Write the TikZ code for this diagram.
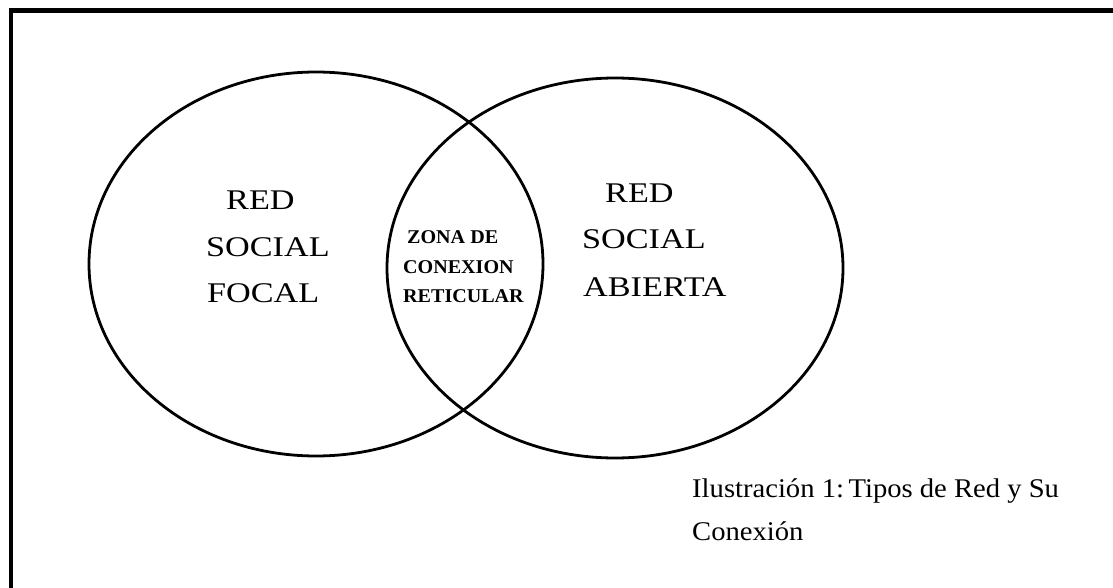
\documentclass[tikz,border=0pt]{standalone}
\usepackage{fontspec}
\setmainfont{Liberation Serif}
\newfontfamily\widefont[FakeStretch=1.2]{Liberation Serif}
\newfontfamily\zonefont[FakeStretch=1.03]{Liberation Serif}
\newfontfamily\capfont[FakeStretch=1.06]{Liberation Serif}
\usetikzlibrary{shapes.geometric}
\tikzset{
  ring/.style={draw=black, line width=2.8pt, ellipse, inner sep=0pt, minimum width=454pt, minimum height=384pt},
  bigtext/.style={anchor=base west, inner sep=0pt, font=\widefont\fontsize{28.5}{28.5}\selectfont},
  zonetext/.style={anchor=base west, inner sep=0pt, font=\zonefont\bfseries\fontsize{19.5}{19.5}\selectfont},
  captext/.style={anchor=base west, inner sep=0pt, font=\capfont\fontsize{27}{27}\selectfont},
}
\begin{document}
\begin{tikzpicture}[x=1pt, y=-1pt]
\useasboundingbox (0,0) rectangle (1113,588);
\fill[white] (0,0) rectangle (1113,588);
% frame
\coordinate (ftr) at (1113,10.5);
\coordinate (ftl) at (11,10.5);
\coordinate (fbl) at (11,588);
\draw[line width=4.2pt] (ftr) -- (ftl) -- (fbl);
% rings
\node[ring] (left) at (316,264) {};
\node[ring, minimum height=380pt, minimum width=456pt] (right) at (615,268) {};
% left text
\node[bigtext] (l1) at (226,209) {RED};
\node[bigtext] (l2) at (206,256) {SOCIAL};
\node[bigtext] (l3) at (207,302) {FOCAL};
% right text
\node[bigtext] (r1) at (605,202) {RED};
\node[bigtext] (r2) at (582,248) {SOCIAL};
\node[bigtext] (r3) at (583,296) {ABIERTA};
% zone text
\node[zonetext] (z1) at (407,243) {ZONA DE};
\node[zonetext] (z2) at (403,273) {CONEXION};
\node[zonetext] (z3) at (403,302) {RETICULAR};
% caption
\node[captext] (c1) at (692,497) {Ilustración 1:\,Tipos de Red y Su};
\node[captext] (c2) at (692,540) {Conexión};
\end{tikzpicture}
\end{document}
